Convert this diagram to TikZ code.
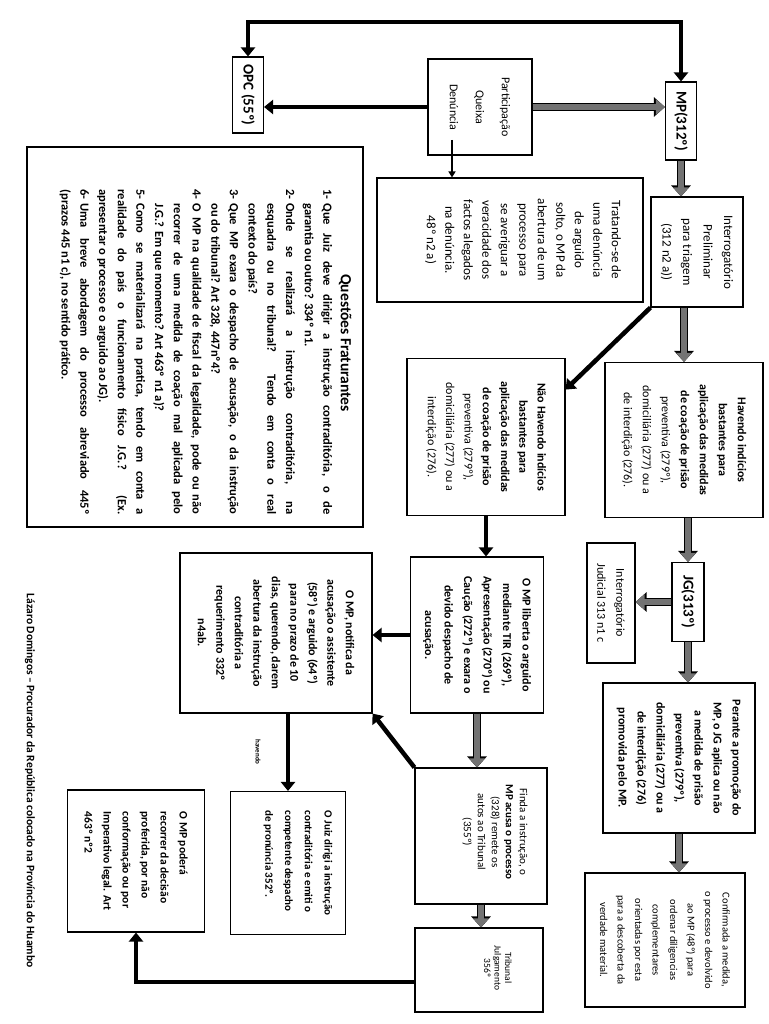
\documentclass[tikz,border=0pt]{standalone}
\usepackage{fontspec}
\setmainfont{Carlito}
\usetikzlibrary{positioning,arrows.meta,calc}
\newcommand{\qnum}[1]{\makebox[14pt][l]{#1}}
\newcommand{\qfull}[1]{\makebox[311pt][s]{#1}}
\newcommand{\qwide}[1]{\makebox[325pt][s]{#1}}
\newcommand{\qhang}{\hspace*{14pt}}

\begin{document}
\begin{tikzpicture}[
    x=1pt,y=-1pt,
    >={Triangle[length=9pt,width=14pt]},
    box/.style={draw,line width=1.1pt,rotate=-90,align=center,inner sep=2pt},
    dims/.style 2 args={minimum height=#1pt,minimum width=#2pt},
    txt/.style 2 args={font=\fontsize{#1}{#2}\selectfont},
    btxt/.style 2 args={font=\bfseries\fontsize{#1}{#2}\selectfont},
    inner/.style={rotate=-90,inner sep=0pt},
    blk/.style={line width=4.5pt,->},
    gra/.style={line width=6pt,black!55,-{Triangle[length=9pt,width=15pt]},
      preaction={draw=black,line width=8pt,-{Triangle[length=11pt,width=19pt]}}},
    thn/.style={line width=2pt,-{Triangle[length=6pt,width=7pt]}},
    lbl/.style={rotate=-90,font=\bfseries\fontsize{7}{8}\selectfont}
  ]
    \useasboundingbox (0,0) rectangle (768,1024);

    % entrada
    \node[box,btxt={15}{17},dims={31}{76}] (opc) at (248,95) {OPC (55º)};
    \node[box,txt={12}{26},dims={104}{96}] (part) at (480,107) {Participação\\Queixa\\Denúncia};
    \node[box,btxt={15}{17},dims={31}{78}] (mp) at (681,121) {MP(312º)};
    \node[box,txt={13}{20.5},dims={92}{110}] (ip) at (697,252) {Interrogatório\\Preliminar\\para triagem\\(312 n2 a))};
    \node[box,dims={266}{124}] (trat) at (510,240) {};
    \node[inner,txt={13}{18.5},align=center] (trattxt) at (523,240) {Tratando-se de\\uma denúncia\\de arguido\\solto, o MP da\\abertura de um\\processo para\\se averiguar a\\veracidade dos\\factos alegados\\na denúncia.\\48º n2 a)};

    % medidas de coacao
    \node[box,txt={12}{19},dims={158}{155}] (hav) at (684,440) {\textbf{Havendo indícios}\\\textbf{bastantes para}\\\textbf{aplicação das medidas}\\\textbf{de coação de prisão}\\preventiva (279º),\\domiciliária (277) ou a\\de interdição (276).};
    \node[box,txt={12}{18.3},dims={158}{157}] (nh) at (486,437) {\textbf{Não Havendo indícios}\\\textbf{bastantes para}\\\textbf{aplicação das medidas}\\\textbf{de coação de prisão}\\preventiva (279º),\\domiciliária (277) ou a\\interdição (276).};
    \node[box,btxt={15}{17},dims={32}{79}] (jg) at (688,602) {JG(313º)};
    \node[box,txt={12}{19},dims={48}{120}] (ij) at (611,603) {Interrogatório\\Judicial 313 n1 c};
    \node[box,btxt={12}{19},dims={152}{150}] (per) at (679,758) {Perante a promoção do\\MP, o JG aplica ou não\\a medida de prisão\\preventiva (279º),\\domiciliária (277) ou a\\de interdição (276)\\promovida pelo MP.};
    \node[box,txt={10.5}{17.5},dims={160}{134}] (conf) at (665,940) {Confirmada a medida,\\o processo e devolvido\\ao MP (48º) para\\ordenar diligencias\\complementares\\orientadas por esta\\para a descoberta da\\verdade material.};

    % acusacao e instrucao
    \node[box,btxt={12}{19.5},dims={133}{156}] (lib) at (477,635) {O MP liberta o arguido\\mediante TIR (269º),\\Apresentação (270º) ou\\Caução (272º) e exara o\\devido despacho de\\acusação.};
    \node[box,btxt={12}{18.5},dims={192}{160}] (notif) at (276,633) {O MP, notifica da\\acusação o assistente\\(58º) e arguido (64º)\\para no prazo de 10\\dias, querendo, darem\\abertura da instrução\\contraditória a\\requerimento 332º\\n4ab.};
    \node[box,dims={132}{136}] (finda) at (481,836) {};
    \node[inner,txt={11}{14},align=center] (fintxt) at (495,832) {Finda a instrução, o\\\textbf{MP acusa o processo}\\(328) remete os\\autos ao Tribunal\\(355º)};
    \node[box,dims={128}{84}] (trib) at (479,970) {};
    \node[inner,txt={9.5}{10.5},align=center] (tribtxt) at (498,968) {Tribunal\\Julgamento\\356º};
    \node[box,dims={115}{143}] (juiz) at (288,863) {};
    \node[inner,btxt={11}{19.7},align=left] (juiztxt) at (298,863) {O Juiz dirigi a instrução\\contraditória e emiti o\\competente despacho\\de pronúncia 352º.};
    \node[box,btxt={11.5}{19},align=left,dims={137}{142}] (poder) at (136,861) {O MP poderá\\recorrer da decisão\\proferida, por não\\conformação ou por\\Imperativo legal. Art\\463º nº2};

    % questoes
    \node[box,dims={336}{380}] (qbox) at (195,337) {};
    \node[inner,anchor=north,inner sep=7pt,align=left,btxt={12.5}{14.3}] (quest) at ($(qbox.north)+(-5,15)$) {%
      \makebox[325pt]{\hspace*{-18pt}\fontsize{15.5}{15}\selectfont Questões Fraturantes}\\[3pt]
      \qnum{1-}\qfull{Que Juiz deve dirigir a instrução contraditória, o de}\\[4.4pt]
      \qhang garantia ou outro? 334º n1.\\[4.4pt]
      \qnum{2-}\qfull{Onde se realizará a instrução contraditória, na}\\[4.4pt]
      \qhang\qfull{esquadra ou no tribunal? Tendo em conta o real}\\[4.4pt]
      \qhang contexto do país?\\[4.4pt]
      \qnum{3-}\qfull{Que MP exara o despacho de acusação, o da instrução}\\[4.4pt]
      \qhang ou do tribunal? Art 328, 447nº4?\\[4.4pt]
      \qnum{4-}\qfull{O MP na qualidade de fiscal da legalidade, pode ou não}\\[4.4pt]
      \qhang\qfull{recorrer de uma medida de coação mal aplicada pelo}\\[4.4pt]
      \qhang J.G.? Em que momento? Art 463º n1 a)?\\[4.4pt]
      \qnum{5-}\qfull{Como se materializará na pratica, tendo em conta a}\\[4.4pt]
      \qwide{realidade do país o funcionamento físico J.G.? (Ex.}\\[4.4pt]
      apresentar o processo e o arguido ao JG).\\[4.4pt]
      \qnum{6-}\qfull{Uma breve abordagem do processo abreviado 445º}\\[4.4pt]
      (prazos 445 n1 c), no sentido prático.};

    \node[rotate=-90,anchor=west,btxt={11.5}{14}] (author) at (30,590) {Lázaro Domingos – Procurador da República colocado na Província do Huambo};

    \coordinate (topl) at (460,22);
    \coordinate (denu) at (452,140);

    \draw[blk,<->] (opc.west) |- (topl) -| (mp.west);
    \draw[gra] (part.north) -- (part.north -| mp.south);
    \draw[blk] (part.south) -- (part.south -| opc.north);
    \draw[thn] (denu) -- (denu |- trat.west);
    \draw[gra] (mp.east) -- (mp.east |- ip.west);
    \draw[gra] (hav.west |- ip.east) -- (hav.west);
    \draw[blk] (ip.south east) -- ($(nh.north west)!0.2!(nh.north east)$);
    \draw[gra] (jg.west |- hav.east) -- (jg.west);
    \draw[gra] (jg.south) -- (jg.south -| ij.north);
    \draw[gra] (jg.east) -- (jg.east |- per.west);
    \draw[gra] (per.east) -- (per.east |- conf.west);
    \draw[blk] (nh.east) -- (nh.east |- lib.west);
    \draw[blk] (lib.south) -- (lib.south -| notif.north);
    \draw[gra] (lib.east) -- (lib.east |- finda.west);
    \draw[blk] (finda.south west) -- (notif.north east);
    \draw[blk] (juiz.west |- notif.east) -- (juiz.west);
    \node[lbl] (havlbl) at (258,752) {havendo};
    \draw[gra] (finda.east) -- (finda.east |- trib.west);
    \draw[blk] ($(trib.south west)!0.64!(trib.south east)$) -| (poder.east);
\end{tikzpicture}
\end{document}
